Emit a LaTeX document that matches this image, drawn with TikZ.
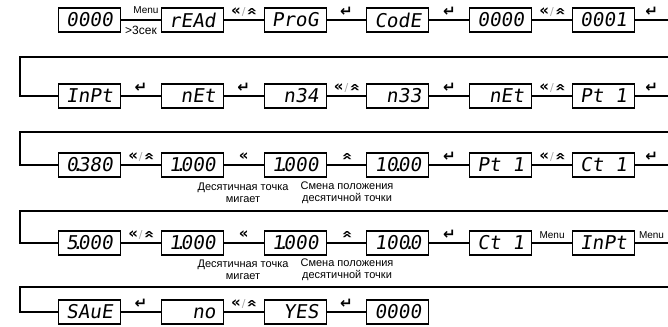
\documentclass[tikz,border=0pt]{standalone}
\usepackage{fontspec}
\setmainfont{Liberation Sans}
\newfontfamily\segfont{DejaVu Sans Mono}[FakeSlant=0.15,FakeStretch=1.02]
\newfontfamily\symfont{DejaVu Sans}
% one empty digit position and a decimal point that takes no position
\newcommand\segblank{\phantom{0}}
\newcommand\segdot{\makebox[0pt]{.}}
% key symbols printed over the connectors
\newcommand\keyenter{\scalebox{1.5}{\symfont\bfseries ↵}}
\newcommand\keyshift{\scalebox{1.5}{\symfont\bfseries «}}
\newcommand\keyup{\scalebox{1.9}[1.3]{\rotatebox[origin=c]{-90}{\symfont\bfseries «}}}
\newcommand\keyboth{\keyshift\kern1pt{\color{gray!70}\symfont\fontsize{11}{11}\selectfont/}\kern1pt\keyup}
\begin{document}
\begin{tikzpicture}[x=1pt,y=-1pt,
  disp/.style={draw, line width=1.1pt, minimum width=62pt, minimum height=24pt,
    inner sep=0pt, font=\segfont\fontsize{19}{19}\selectfont},
  link/.style={line width=1.3pt},
  key/.style={yshift=8pt, inner sep=0pt, font=\fontsize{10}{10}\selectfont},
  note/.style={align=center, inner sep=0pt, font=\fontsize{11}{12}\selectfont},
  menu/.style={inner sep=0pt, font=\fontsize{10}{10}\selectfont}]
\useasboundingbox (0,0) rectangle (668,326);

% ---- row 1
\node[disp] (a1) at (89.5,20)  {0000};
\node[disp] (a2) at (192.3,20) {rEAd};
\node[disp] (a3) at (295.1,20) {ProG};
\node[disp] (a4) at (397.9,20) {CodE};
\node[disp] (a5) at (500.7,20) {0000};
\node[disp] (a6) at (603.5,20) {0001};
\coordinate (a7) at (668,20);
\draw[link] (a1) -- (a2);
\node[menu] (m1) at (146,10) {Menu};
\node[menu, font=\fontsize{12}{12}\selectfont] (t1) at (141,30) {>3сек};
\draw[link] (a2) -- node[key]{\keyboth} (a3);
\draw[link] (a3) -- node[key]{\keyenter} (a4);
\draw[link] (a4) -- node[key]{\keyenter} (a5);
\draw[link] (a5) -- node[key]{\keyboth} (a6);
\draw[link] (a6) -- node[key]{\keyenter} (a7);

% ---- row 2
\coordinate (r1a) at (668,57);
\coordinate (r1b) at (20,57);
\node[disp] (b1) at (89.5,96)  {InPt};
\node[disp] (b2) at (192.3,96) {\segblank nEt};
\node[disp] (b3) at (295.1,96) {\segblank n34};
\node[disp] (b4) at (397.9,96) {\segblank n33};
\node[disp] (b5) at (500.7,96) {\segblank nEt};
\node[disp] (b6) at (603.5,96) {Pt\segblank 1};
\coordinate (b7) at (668,96);
\draw[link] (r1a) -- (r1b) |- (b1);
\draw[link] (b1) -- node[key]{\keyenter} (b2);
\draw[link] (b2) -- node[key]{\keyenter} (b3);
\draw[link] (b3) -- node[key]{\keyboth} (b4);
\draw[link] (b4) -- node[key]{\keyenter} (b5);
\draw[link] (b5) -- node[key]{\keyboth} (b6);
\draw[link] (b6) -- node[key]{\keyenter} (b7);

% ---- row 3
\coordinate (r2a) at (668,132);
\coordinate (r2b) at (20,132);
\node[disp] (c1) at (89.5,165)  {0\segdot 380};
\node[disp] (c2) at (192.3,165) {1\segdot 000};
\node[disp] (c3) at (295.1,165) {1\segdot 000};
\node[disp] (c4) at (397.9,165) {10\segdot 00};
\node[disp] (c5) at (500.7,165) {Pt\segblank 1};
\node[disp] (c6) at (603.5,165) {Ct\segblank 1};
\coordinate (c7) at (668,165);
\draw[link] (r2a) -- (r2b) |- (c1);
\draw[link] (c1) -- node[key]{\keyboth} (c2);
\draw[link] (c2) -- node[key]{\keyshift} (c3);
\draw[link] (c3) -- node[key]{\keyup} (c4);
\draw[link] (c4) -- node[key]{\keyenter} (c5);
\draw[link] (c5) -- node[key]{\keyboth} (c6);
\draw[link] (c6) -- node[key]{\keyenter} (c7);
\node[note] (n1) at (243,193) {Десятичная точка\\мигает};
\node[note] (n2) at (347,193) {Смена положения\\десятичной точки};

% ---- row 4
\coordinate (r3a) at (668,211);
\coordinate (r3b) at (20,211);
\node[disp] (d1) at (89.5,243)  {5\segdot 000};
\node[disp] (d2) at (192.3,243) {1\segdot 000};
\node[disp] (d3) at (295.1,243) {1\segdot 000};
\node[disp] (d4) at (397.9,243) {100\segdot 0};
\node[disp] (d5) at (500.7,243) {Ct\segblank 1};
\node[disp] (d6) at (603.5,243) {InPt};
\coordinate (d7) at (668,243);
\draw[link] (r3a) -- (r3b) |- (d1);
\draw[link] (d1) -- node[key]{\keyboth} (d2);
\draw[link] (d2) -- node[key]{\keyshift} (d3);
\draw[link] (d3) -- node[key]{\keyup} (d4);
\draw[link] (d4) -- node[key]{\keyenter} (d5);
\draw[link] (d5) -- node[key, menu]{Menu} (d6);
\draw[link] (d6) -- node[key, menu]{Menu} (d7);
\node[note] (n3) at (243,270) {Десятичная точка\\мигает};
\node[note] (n4) at (347,270) {Смена положения\\десятичной точки};

% ---- row 5
\coordinate (r4a) at (668,287);
\coordinate (r4b) at (20,287);
\node[disp] (e1) at (89.5,312)  {SAuE};
\node[disp] (e2) at (192.3,312) {\segblank\segblank no};
\node[disp] (e3) at (295.1,312) {\segblank YES};
\node[disp] (e4) at (397.9,312) {0000};
\draw[link] (r4a) -- (r4b) |- (e1);
\draw[link] (e1) -- node[key]{\keyenter} (e2);
\draw[link] (e2) -- node[key]{\keyboth} (e3);
\draw[link] (e3) -- node[key]{\keyenter} (e4);
\end{tikzpicture}
\end{document}
